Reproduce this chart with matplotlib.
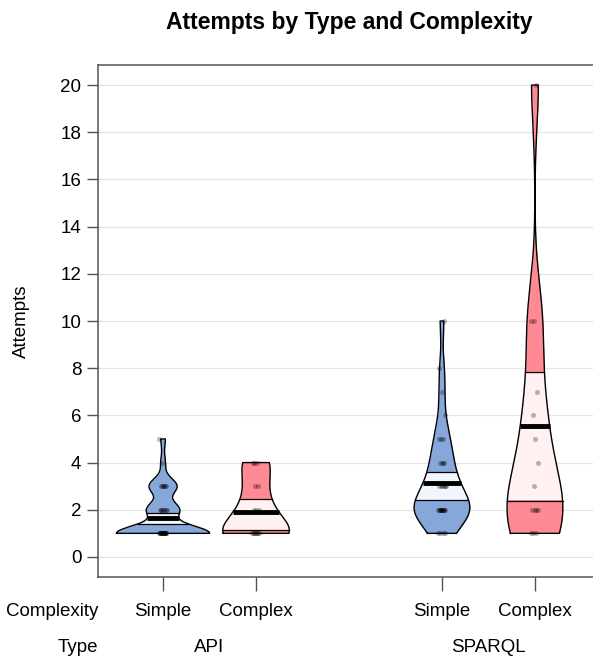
import matplotlib
matplotlib.use("Agg")
import matplotlib.pyplot as plt
import numpy as np

plt.rcParams['font.family'] = ['Liberation Sans', 'DejaVu Sans']

# data
types = ["API", "SPARQL"]
complexity = ["Simple", "Complex", "Simple", "Complex"]
positions = [1, 2, 4, 5]

api_simple = [1] * 20 + [2] * 7 + [3] * 6 + [4, 5]
api_complex = [1] * 8 + [2] * 3 + [3] * 2 + [4] * 3
sparql_simple = [1] * 4 + [2] * 12 + [3] * 6 + [4] * 4 + [5] * 3 + [6, 7, 8, 10]
sparql_complex = [1, 1, 1, 2, 2, 2, 2, 3, 4, 5, 6, 7, 10, 10, 20]
groups = [api_simple, api_complex, sparql_simple, sparql_complex]

# mean line and inference band
bean_mean = [1.67, 1.92, 3.12, 5.57]
band_low = [1.40, 1.14, 2.42, 2.39]
band_high = [1.85, 2.47, 3.62, 7.85]

bean_col = ["#86A7DA", "#FF8A94", "#86A7DA", "#FF8A94"]
band_col = ["#F1F5FC", "#FFF1F2", "#F1F5FC", "#FFF1F2"]


def bw_nrd0(x):
    x = np.asarray(x, float)
    sd = np.std(x, ddof=1)
    q1, q3 = np.percentile(x, [25, 75])
    lo = min(sd, (q3 - q1) / 1.34)
    if lo == 0:
        lo = sd
    return 0.9 * lo * len(x) ** -0.2


def density(x, grid):
    x = np.asarray(x, float)
    bw = bw_nrd0(x)
    z = (grid[:, None] - x[None, :]) / bw
    return np.exp(-0.5 * z ** 2).sum(axis=1) / (len(x) * bw * np.sqrt(2 * np.pi))


fig = plt.figure(figsize=(5.93, 6.58), dpi=100)
ax = fig.add_axes([98 / 593, 81 / 658, 502 / 593, 512 / 658])

for yv in range(0, 21, 2):
    ax.axhline(yv, color="#e4e4e4", lw=0.9, zorder=0)

for i, (vals, pos) in enumerate(zip(groups, positions)):
    vals = np.asarray(vals, float)
    y = np.linspace(vals.min(), vals.max(), 400)
    d = density(vals, y)
    m = d.max()
    if m > 0.5:
        d = d / m * 0.5
    elif m < 0.3:
        d = d / m * 0.3

    ax.fill_betweenx(y, pos - d, pos + d, color=bean_col[i], lw=0, zorder=1)

    inb = (y >= band_low[i]) & (y <= band_high[i])
    ax.fill_betweenx(y[inb], pos - d[inb], pos + d[inb], color=band_col[i], lw=0, zorder=2)
    for yb in (band_low[i], band_high[i]):
        w = np.interp(yb, y, d)
        ax.plot([pos - w, pos + w], [yb, yb], color="black", lw=0.9, zorder=3)

    # points
    n = len(vals)
    jit = ((np.arange(n) * 0.618) % 1 - 0.5) * 0.08
    ax.scatter(pos + jit, vals, s=13, color="black", alpha=0.28, lw=0, zorder=4)

    wm = np.interp(bean_mean[i], y, d)
    ax.plot([pos - wm, pos + wm], [bean_mean[i]] * 2, color="black", lw=3.5,
            solid_capstyle="butt", zorder=5)

    ox = np.concatenate([pos - d, (pos + d)[::-1], [pos - d[0]]])
    oy = np.concatenate([y, y[::-1], [y[0]]])
    ax.plot(ox, oy, color="black", lw=1.0, zorder=6)

ax.set_xlim(0.3, 5.7)
ax.set_ylim(-0.85, 20.85)
ax.set_yticks(range(0, 21, 2))
ax.set_xticks(positions)
ax.set_xticklabels([])
ax.tick_params(axis="y", length=8, width=1, color="#555555", labelsize=13.5, pad=4)
ax.tick_params(axis="x", length=10, width=1, color="#555555")
for s in ax.spines.values():
    s.set_color("#555555")
    s.set_linewidth(1.1)
ax.set_ylabel("Attempts", fontsize=13.5, labelpad=22)

ax.set_title("Attempts by Type and Complexity", fontsize=16.5, fontweight="bold", pad=26)

tr = ax.get_xaxis_transform()
fs = 13.5
for pos, lab in zip(positions, complexity):
    ax.text(pos, -0.067, lab, transform=tr, ha="center", va="center", fontsize=fs)
ax.text(-0.195, -0.067, "Complexity", transform=tr, ha="center", va="center", fontsize=fs, clip_on=False)
ax.text(0.5 * (positions[0] + positions[1]), -0.137, types[0], transform=tr, ha="center", va="center", fontsize=fs)
ax.text(0.5 * (positions[2] + positions[3]), -0.137, types[1], transform=tr, ha="center", va="center", fontsize=fs)
ax.text(0.085, -0.137, "Type", transform=tr, ha="center", va="center", fontsize=fs, clip_on=False)

fig.savefig("out.png", dpi=100)
